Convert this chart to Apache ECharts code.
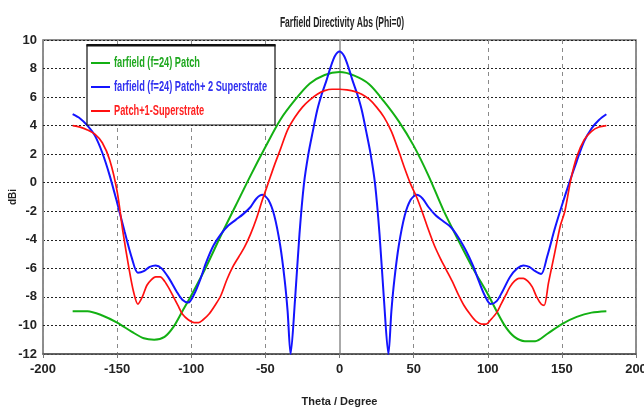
<!DOCTYPE html>
<html>
<head>
<meta charset="utf-8">
<script src="https://cdn.jsdelivr.net/npm/echarts@6.0.0/dist/echarts.min.js"></script>
<style>
  html, body { margin: 0; padding: 0; background: #fff; }
  #container { width: 644px; height: 412px; }
</style>
</head>
<body>
<div id="container"></div>
<script>
// values (theta in degrees, directivity in dBi)
var thetaPatch = [-180, -170, -160, -150, -140, -132, -125, -118, -112, -106, -100, -90, -80, -70, -60, -50, -40, -30, -20, -10, 0,
  10, 20, 30, 40, 50, 60, 70, 80, 90, 100, 106, 112, 118, 125, 132, 140, 150, 160, 170, 180]
var patch = [-9.0, -9.0, -9.3, -9.8, -10.45, -10.9, -11.0, -10.8, -10.1, -9.0, -7.9, -5.9, -3.7, -1.6, 0.5, 2.5, 4.4, 5.8, 6.95, 7.55, 7.75,
  7.5, 6.9, 5.7, 4.3, 2.6, 0.5, -1.9, -4.0, -6.0, -7.8, -9.0, -10.1, -10.8, -11.1, -11.1, -10.6, -9.9, -9.4, -9.1, -9.0]

var thetaTwo = [-180, -175, -170, -165, -160, -155, -150, -145, -140, -136, -132, -128, -124, -120, -115, -110, -106, -102, -98, -94, -90,
  -85, -80, -75, -70, -65, -60, -56, -52, -48, -44, -40, -37, -35, -33, -30, -27, -24, -21, -18, -15, -12, -9, -6, -3, 0,
  3, 6, 9, 12, 15, 18, 21, 24, 27, 30, 33, 35, 37, 40, 44, 48, 52, 56, 60, 65, 70, 75, 80, 85, 90,
  94, 98, 102, 106, 110, 115, 120, 124, 128, 132, 136, 140, 145, 150, 155, 160, 165, 170, 175, 180]
var twoSuperstrate = [4.8, 4.5, 4.0, 3.3, 2.1, 0.5, -1.4, -3.4, -5.3, -6.3, -6.2, -5.9, -5.8, -6.0, -6.7, -7.6, -8.2, -8.4, -7.8, -6.8, -5.6,
  -4.4, -3.6, -3.0, -2.6, -2.2, -1.7, -1.1, -0.85, -1.2, -2.3, -4.4, -6.8, -9.0, -12, -8.2, -3.6, -0.1, 2.0, 3.6, 5.1, 6.2, 7.1, 8.1, 8.9, 9.2,
  8.9, 8.1, 7.1, 6.2, 5.1, 3.6, 2.0, -0.1, -3.6, -8.2, -12, -9.0, -6.8, -4.4, -2.3, -1.2, -0.85, -1.1, -1.7, -2.3, -2.7, -3.1, -3.8, -4.7, -5.8,
  -6.9, -7.9, -8.5, -8.3, -7.6, -6.6, -6.0, -5.8, -5.9, -6.2, -6.4, -5.2, -3.3, -1.6, 0.0, 1.5, 2.9, 3.8, 4.4, 4.8]

var thetaOne = [-180, -175, -170, -165, -160, -155, -150, -146, -142, -139, -136, -133, -130, -127, -124, -121, -118, -115, -112, -109, -106,
  -102, -98, -95, -92, -88, -84, -80, -76, -72, -68, -64, -60, -56, -52, -48, -44, -40, -35, -30, -25, -20, -15, -10, -5, 0,
  5, 10, 15, 20, 25, 30, 35, 40, 44, 48, 52, 56, 60, 64, 68, 72, 76, 80, 84, 88, 92, 96, 99, 102, 106,
  109, 112, 115, 118, 121, 124, 127, 130, 133, 136, 138, 141, 145, 149, 152, 156, 160, 165, 170, 175, 180]
var oneSuperstrate = [4.0, 3.9, 3.7, 3.4, 2.8, 1.6, -0.6, -3.5, -6.0, -7.6, -8.5, -8.0, -7.2, -6.8, -6.6, -6.6, -6.9, -7.4, -8.0, -8.6, -9.2,
  -9.6, -9.8, -9.8, -9.6, -9.2, -8.6, -7.9, -6.8, -5.9, -5.2, -4.5, -3.6, -2.5, -1.2, 0.0, 1.2, 2.3, 3.7, 4.6, 5.3, 5.8, 6.2, 6.45, 6.55, 6.55,
  6.5, 6.4, 6.2, 5.85, 5.3, 4.6, 3.6, 2.2, 1.0, -0.1, -1.0, -2.1, -3.3, -4.4, -5.3, -6.1, -6.9, -7.8, -8.6, -9.2, -9.7, -9.9, -9.9, -9.6, -9.1,
  -8.5, -7.9, -7.3, -6.9, -6.7, -6.7, -6.9, -7.3, -8.0, -8.5, -8.6, -7.0, -5.0, -3.0, -2.0, 0.2, 1.8, 3.0, 3.6, 3.9, 4.0]

var seriesNames = ['farfield (f=24) Patch', 'farfield (f=24) Patch+ 2 Superstrate', 'Patch+1-Superstrate']
var seriesColors = ['#13b013', '#1414ff', '#ff1010']
var legendColors = ['#1fa81f', '#3030f0', '#ff2020']

function pairs(xs, ys) {
  return xs.map(function (x, i) { return [x, ys[i]] })
}

var font = '"Liberation Sans", Arial, sans-serif'

// legend is drawn by hand: the original uses a very condensed face, so the text is squeezed with scaleX
var legendRows = [63, 87, 111]
var legendGraphic = [
  {
    type: 'rect',
    x: 87, y: 45, z: 10,
    shape: { width: 188, height: 80 },
    style: { fill: '#fff', stroke: '#111', lineWidth: 1.2 }
  },
  {
    type: 'rect',
    x: 86.5, y: 44, z: 11,
    shape: { width: 189, height: 2.5 },
    style: { fill: '#111' }
  }
]
seriesNames.forEach(function (n, i) {
  legendGraphic.push({
    type: 'line',
    z: 11,
    shape: { x1: 91, y1: legendRows[i], x2: 110, y2: legendRows[i] },
    style: { stroke: seriesColors[i], lineWidth: 2 }
  })
  legendGraphic.push({
    type: 'text',
    x: 114, y: legendRows[i], z: 11,
    scaleX: 0.66,
    style: {
      text: n,
      fill: legendColors[i],
      font: 'bold 14px ' + font,
      verticalAlign: 'middle',
      align: 'left'
    }
  })
})

var myChart = echarts.init(document.getElementById('container'))

myChart.setOption({
  animation: false,
  backgroundColor: '#fff',
  textStyle: { fontFamily: font },
  grid: {
    left: 43,
    right: 8,
    top: 40,
    bottom: 58,
    outerBoundsMode: 'none',
    containLabel: false,
    show: true,
    borderColor: '#6a6a6a',
    borderWidth: 1.5
  },
  graphic: [
    {
      type: 'text',
      x: 342, y: 23, z: 11,
      scaleX: 0.57,
      style: {
        text: 'Farfield Directivity Abs (Phi=0)',
        fill: '#222',
        font: 'bold 15px ' + font,
        align: 'center',
        verticalAlign: 'middle'
      }
    }
  ].concat(legendGraphic),
  xAxis: {
    type: 'value',
    min: -200,
    max: 200,
    interval: 50,
    name: 'Theta / Degree',
    nameLocation: 'middle',
    nameGap: 42,
    nameMoveOverlap: false,
    nameTextStyle: { fontSize: 11, fontWeight: 'bold', color: '#222', fontFamily: font },
    axisLine: { show: true, onZero: false, lineStyle: { color: '#555', width: 1.5 } },
    axisTick: { show: true, length: 4, lineStyle: { color: '#777' } },
    axisLabel: { fontSize: 13, fontWeight: 'bold', color: '#222', margin: 9, fontFamily: font },
    splitLine: { show: true, lineStyle: { color: '#8a8a8a', type: [4, 4], width: 1 } }
  },
  yAxis: {
    type: 'value',
    min: -12,
    max: 10,
    interval: 2,
    name: 'dBi',
    nameLocation: 'middle',
    nameGap: 25,
    nameMoveOverlap: false,
    nameTextStyle: { fontSize: 10, fontWeight: 'bold', color: '#222', fontFamily: font },
    axisLine: { show: true, lineStyle: { color: '#aaa', width: 2 } },
    axisTick: { show: true, length: 5, lineStyle: { color: '#444', type: [2, 1] } },
    axisLabel: { fontSize: 13, fontWeight: 'bold', color: '#222', margin: 6, fontFamily: font },
    splitLine: { show: true, lineStyle: { color: '#222', type: [2, 2], width: 1 } }
  },
  series: [
    {
      name: seriesNames[0],
      type: 'line',
      smooth: 0.3,
      showSymbol: false,
      z: 3,
      lineStyle: { color: seriesColors[0], width: 2 },
      itemStyle: { color: seriesColors[0] },
      data: pairs(thetaPatch, patch)
    },
    {
      name: seriesNames[1],
      type: 'line',
      smooth: 0.3,
      showSymbol: false,
      z: 4,
      lineStyle: { color: seriesColors[1], width: 2 },
      itemStyle: { color: seriesColors[1] },
      data: pairs(thetaTwo, twoSuperstrate)
    },
    {
      name: seriesNames[2],
      type: 'line',
      smooth: 0.3,
      showSymbol: false,
      z: 5,
      lineStyle: { color: seriesColors[2], width: 1.7 },
      itemStyle: { color: seriesColors[2] },
      data: pairs(thetaOne, oneSuperstrate)
    }
  ]
})
</script>
</body>
</html>
